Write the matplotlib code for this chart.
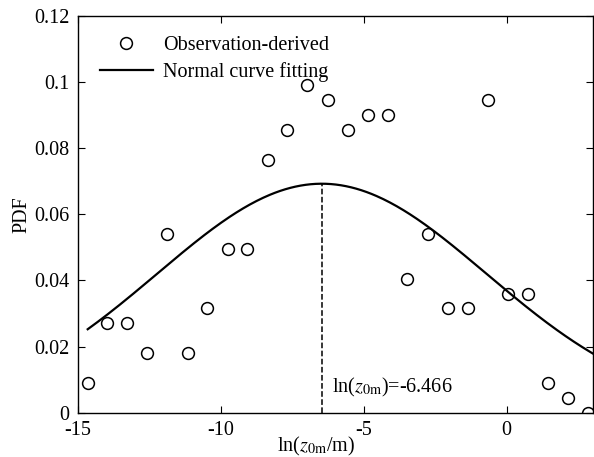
import numpy as np
import matplotlib
matplotlib.use('Agg')
from matplotlib import pyplot as plt

x_obs = [-14.65, -13.96, -13.27, -12.57, -11.87, -11.15, -10.47, -9.76, -9.07,
         -8.36, -7.67, -6.97, -6.26, -5.56, -4.86, -4.16, -3.48, -2.76, -2.04,
         -1.34, -0.66, 0.06, 0.73, 1.43, 2.13, 2.83]
pdf_obs = [0.009, 0.027, 0.027, 0.018, 0.054, 0.018, 0.0316, 0.0495, 0.0495,
           0.0765, 0.0855, 0.099, 0.0945, 0.0855, 0.09, 0.09, 0.0405, 0.054, 0.0316,
           0.0316, 0.0945, 0.036, 0.036, 0.009, 0.0045, 0.0]

# fitted normal parameters
mu = -6.466
sigma = 5.76
x_start, x_end = -14.65, 3.0

plt.rcParams['font.family'] = 'Liberation Serif'
plt.rcParams['mathtext.fontset'] = 'stix'
plt.rcParams['axes.unicode_minus'] = False

fs = 14.5
fig = plt.figure(figsize=(5.94, 4.57), dpi=100)
ax = fig.add_axes([0.1308, 0.097, 0.8667, 0.868])

xs = np.linspace(x_start, x_end, 300)
ys = np.exp(-(xs - mu) ** 2 / (2 * sigma ** 2)) / (sigma * np.sqrt(2 * np.pi))
peak = 1 / (sigma * np.sqrt(2 * np.pi))

ax.plot(x_obs, pdf_obs, 'o', mfc='none', mec='black', ms=8.5, mew=1.1,
        label='Observation-derived')
ax.plot(xs, ys, 'k-', lw=1.6, label='Normal curve fitting')
ax.plot([mu, mu], [0, peak], 'k--', lw=1.1)
ax.text(-6.1, 0.0075, r'ln($z_{\rm 0m}$)=-6.466', fontsize=fs, va='center')

ax.set_xlim(-15, 3)
ax.set_ylim(0, 0.12)
ax.set_xticks([-15, -10, -5, 0])
ax.set_yticks([0, 0.02, 0.04, 0.06, 0.08, 0.1, 0.12])
ax.set_yticklabels(['0', '0.02', '0.04', '0.06', '0.08', '0.1', '0.12'])
ax.tick_params(direction='in', top=True, right=True, labelsize=fs, length=5, width=0.8)
ax.tick_params(axis='x', pad=6)
ax.tick_params(axis='y', pad=6)
for s in ax.spines.values():
    s.set_linewidth(1.0)

ax.set_xlabel(r'ln($z_{\rm 0m}$/m)', fontsize=fs)
ax.xaxis.set_label_coords(0.462, -0.055, transform=ax.transAxes)
ax.xaxis.label.set_va('top')
ax.set_ylabel('PDF', fontsize=fs, labelpad=2)
ax.legend(loc='upper left', frameon=False, fontsize=fs, handlelength=2.6,
          handletextpad=0.5, borderaxespad=0.0, labelspacing=0.35,
          borderpad=0.2, bbox_to_anchor=(0.036, 0.96))

fig.savefig('out.png', dpi=100)
